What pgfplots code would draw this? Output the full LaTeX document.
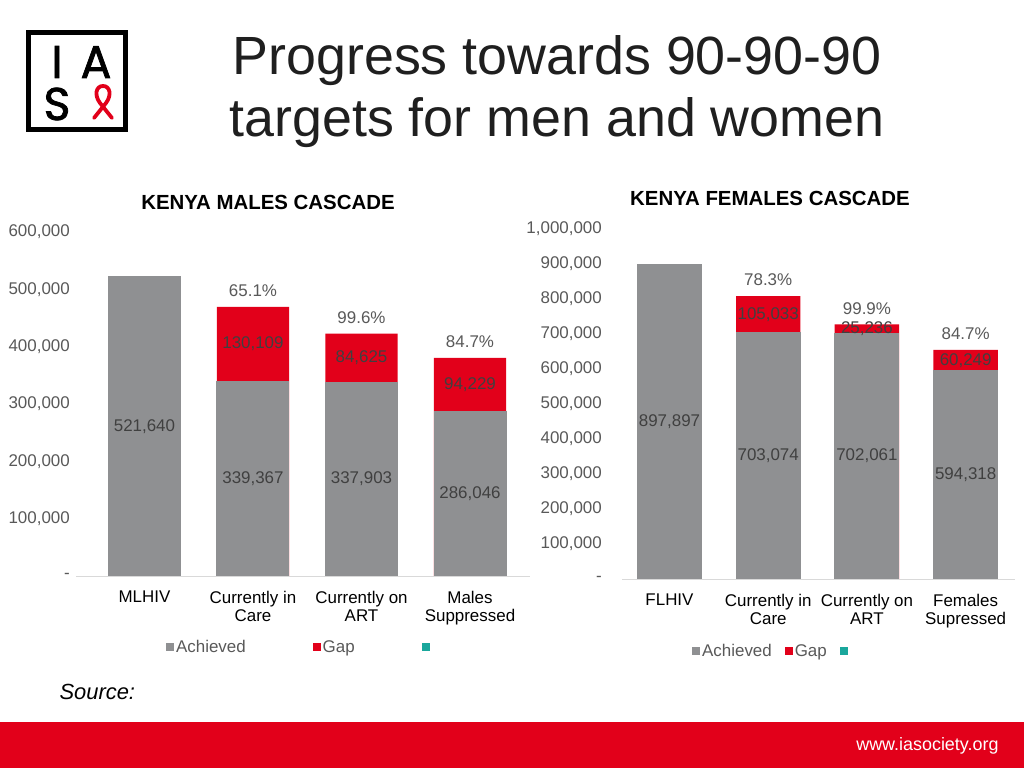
\documentclass[border=0pt]{standalone}
\usepackage{pgfplots}
\pgfplotsset{compat=1.18}
\usepackage{pgfplotstable}
\usepackage{fontspec}
\setmainfont{Liberation Sans}
\newfontfamily\logofont[FakeBold=1.6]{Poppins}

\definecolor{barGray}{HTML}{8F9092}
\definecolor{gapRed}{HTML}{E2001A}
\definecolor{tealC}{HTML}{1AA79C}
\definecolor{tickText}{HTML}{595959}
\definecolor{lblText}{HTML}{404040}

% achieved (a), gap (g) and their labels
\pgfplotstableread{
x a g la lg lp
0 521640 0 {521,640} {} {}
1 339367 130109 {339,367} {130,109} {65.1\%}
2 337903 84625 {337,903} {84,625} {99.6\%}
3 286046 94229 {286,046} {94,229} {84.7\%}
}\males

\pgfplotstableread{
x a g la lg lp
0 897897 0 {897,897} {} {}
1 703074 105033 {703,074} {105,033} {78.3\%}
2 702061 25236 {702,061} {25,236} {99.9\%}
3 594318 60249 {594,318} {60,249} {84.7\%}
}\females

\pgfplotsset{
  cascade/.style={
    scale only axis,
    ymin=0, xtick={0,1,2,3},
    scaled y ticks=false,
    axis x line*=bottom, axis y line*=left,
    x axis line style={draw=black!15, -},
    y axis line style={draw=none},
    major tick length=0pt,
    tick label style={font=\fontsize{17}{18}\selectfont},
    yticklabel style={text=tickText, anchor=east, inner sep=0pt},
    xticklabel style={align=center, anchor=north, inner sep=0pt, yshift=-15bp},
    legend columns=3,
    legend image code/.code={\fill[##1, draw=none] (0bp,-4bp) rectangle (8bp,4bp);},
    legend style={draw=none, fill=none, inner sep=0pt, anchor=west,
      font=\fontsize{17}{18}\selectfont, text=tickText},
  },
  gapbar/.style={ybar, bar width=#1, bar shift=0pt, fill=gapRed, draw=none, forget plot},
  achbar/.style={ybar, bar width=#1, bar shift=0pt, fill=barGray, draw=barGray, line width=1bp, forget plot},
  lbl/.style={draw=none, mark=none, forget plot, nodes near coords,
    point meta=explicit symbolic,
    every node near coord/.append style={anchor=center,
      font=\fontsize{17}{18}\selectfont, text=lblText}},
  pct/.style={draw=none, mark=none, forget plot, nodes near coords,
    point meta=explicit symbolic,
    every node near coord/.append style={anchor=center, yshift=16bp,
      font=\fontsize{17}{18}\selectfont, text=tickText}},
}

\begin{document}
\begin{tikzpicture}[x=1bp, y=1bp]
  \fill[white] (0,0) rectangle (1024,768);
  \useasboundingbox (0,0) rectangle (1024,768);

  % logo
  \draw[black, line width=4.5bp] (28.5,735.5) rectangle (125.5,638.5);
  \node[font=\logofont\fontsize{46}{46}\selectfont, anchor=base] at (57,690) {I};
  \node[font=\logofont\fontsize{46}{46}\selectfont, anchor=base] at (96,690) {A};
  \node[font=\logofont\fontsize{46}{46}\selectfont, anchor=base] at (57,648) {S};
  \draw[gapRed, line width=3.8bp, line cap=round]
    (94,650) -- (106,665) .. controls (112,673) and (110,682) .. (103,682)
    .. controls (96,682) and (94,673) .. (100,665) -- (112,650);

  % slide title
  \node[anchor=base, font=\fontsize{54}{54}\selectfont, text=black!88] at (557,693) {Progress towards 90-90-90};
  \node[anchor=base, font=\fontsize{54}{54}\selectfont, text=black!88] at (557,631) {targets for men and women};

  \node[font=\bfseries\fontsize{20.5}{22}\selectfont] at (268,566) {KENYA MALES CASCADE};
  \node[font=\bfseries\fontsize{20.5}{22}\selectfont] at (770,570) {KENYA FEMALES CASCADE};

  \begin{axis}[cascade,
      at={(76bp,192bp)}, anchor=south west,
      width=454bp, height=344bp,
      xmin=-0.631, xmax=3.553, ymax=600000,
      ytick={0,100000,200000,300000,400000,500000,600000},
      yticklabels={{-\hspace{8bp}},{100,000},{200,000},{300,000},{400,000},{500,000},{600,000}},
      yticklabel style={xshift=-6bp},
      xticklabels={MLHIV,{Currently in\\Care},{Currently on\\ART},{Males\\Suppressed}},
      legend style={at={(rel axis cs:0.198,-0.206)},
        /tikz/every even column/.append style={column sep=65bp}},
    ]
    \addplot[gapbar=72.4bp] table[x=x, y expr=\thisrow{a}+\thisrow{g}] {\males};
    \addplot[achbar=72bp] table[x=x, y=a] {\males};
    \addplot[lbl] table[x=x, y expr=\thisrow{a}/2, meta=la] {\males};
    \addplot[lbl] table[x=x, y expr=\thisrow{a}+\thisrow{g}/2, meta=lg] {\males};
    \addplot[pct] table[x=x, y expr=\thisrow{a}+\thisrow{g}, meta=lp] {\males};
    \addlegendimage{fill=barGray}\addlegendentry{Achieved}
    \addlegendimage{fill=gapRed}\addlegendentry{Gap}
    \addlegendimage{fill=tealC}\addlegendentry{}
  \end{axis}

  \begin{axis}[cascade,
      at={(622bp,189bp)}, anchor=south west,
      width=393bp, height=350bp,
      xmin=-0.481, xmax=3.50, ymax=1000000,
      ytick={0,100000,200000,300000,400000,500000,600000,700000,800000,900000,1000000},
      yticklabels={{-\hspace{8bp}},{100,000},{200,000},{300,000},{400,000},{500,000},{600,000},{700,000},{800,000},{900,000},{1,000,000}},
      yticklabel style={xshift=-20bp},
      xticklabels={FLHIV,{Currently in\\Care},{Currently on\\ART},{Females\\Supressed}},
      legend style={at={(rel axis cs:0.178,-0.206)},
        /tikz/every even column/.append style={column sep=11bp}},
    ]
    \addplot[gapbar=64.4bp] table[x=x, y expr=\thisrow{a}+\thisrow{g}] {\females};
    \addplot[achbar=64bp] table[x=x, y=a] {\females};
    \addplot[lbl] table[x=x, y expr=\thisrow{a}/2, meta=la] {\females};
    \addplot[lbl] table[x=x, y expr=\thisrow{a}+\thisrow{g}/2, meta=lg] {\females};
    \addplot[pct] table[x=x, y expr=\thisrow{a}+\thisrow{g}, meta=lp] {\females};
    \addlegendimage{fill=barGray}\addlegendentry{Achieved}
    \addlegendimage{fill=gapRed}\addlegendentry{Gap}
    \addlegendimage{fill=tealC}\addlegendentry{}
  \end{axis}

  \node[anchor=base west, font=\itshape\fontsize{22}{24}\selectfont] at (56,68) {Source:};

  % footer
  \fill[gapRed] (0,0) rectangle (1024,46);
  \node[anchor=base east, text=white, font=\fontsize{18}{20}\selectfont] at (1002,17) {www.iasociety.org};
\end{tikzpicture}
\end{document}
